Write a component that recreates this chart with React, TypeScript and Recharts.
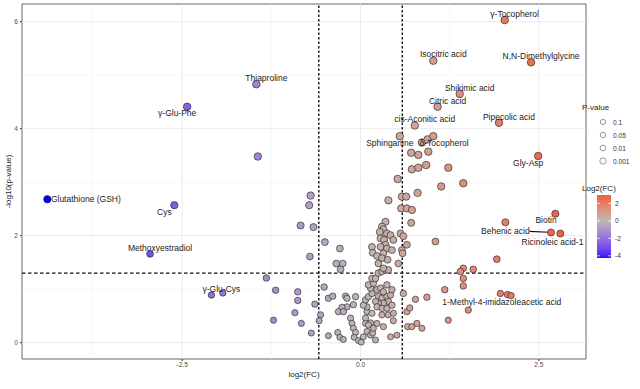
import { ScatterChart, Scatter, XAxis, YAxis, ReferenceLine, ReferenceArea } from "recharts";

// [log2(FC), -log10(p)]
const leftPoints = [
    [-4.39, 2.68], [-2.61, 2.57], [-2.95, 1.66], [-2.43, 4.41], [-1.46, 4.83], [-1.44, 3.48],
    [-0.70, 2.75], [-0.72, 2.57], [-0.84, 2.19], [-0.66, 2.16], [-0.71, 1.61],
    [-2.09, 0.89], [-1.93, 0.93], [-1.32, 1.21], [-1.19, 0.98], [-0.88, 0.95], [-0.88, 0.79],
    [-0.92, 0.56], [-1.22, 0.42], [-0.83, 0.36], [-0.69, 0.18], [-0.64, 0.72],
];

const centerPoints = [
    [-0.50, 1.88], [-0.51, 1.04], [-0.45, 0.83], [-0.56, 0.52], [-0.58, 0.41], [-0.45, 0.13],
    [-0.29, 1.76], [-0.34, 1.48], [-0.25, 1.48], [-0.28, 1.37], [-0.39, 0.87], [-0.21, 0.87],
    [-0.19, 0.83], [-0.07, 0.86], [-0.10, 0.71], [-0.19, 0.67], [-0.26, 0.66], [-0.31, 0.58],
    [-0.24, 0.58], [-0.32, 0.19], [-0.29, 0.10], [-0.24, 0.06], [-0.14, 0.46], [-0.12, 0.36],
    [-0.10, 0.27], [-0.07, 0.19], [-0.09, 0.10], [-0.03, 0.04], [0.01, 0.01], [0.04, 0.11],
    [0.09, 0.21], [0.14, 0.14], [0.21, 0.05], [0.17, 0.18], [0.42, 0.11], [0.51, 0.14],
    [0.46, 0.41], [0.23, 0.36], [0.14, 0.37], [0.07, 0.46], [0.09, 0.58], [0.16, 0.55],
    [0.30, 0.52], [0.39, 0.52], [0.07, 0.36], [0.11, 0.33], [0.18, 0.27], [0.32, 0.30],
    [0.09, 0.67], [0.04, 0.70], [0.07, 0.80], [0.11, 0.86], [0.16, 0.92], [0.14, 1.02],
    [0.11, 1.08], [0.18, 1.11], [0.16, 1.20], [0.21, 1.20], [0.25, 1.30], [0.30, 1.33],
    [0.35, 1.36], [0.39, 1.36], [0.23, 0.99], [0.28, 1.02], [0.32, 0.95], [0.25, 0.86],
    [0.30, 0.83], [0.37, 0.86], [0.39, 0.77], [0.32, 0.74], [0.25, 0.74], [0.21, 0.77],
    [0.23, 0.67], [0.30, 0.64], [0.37, 0.64], [0.44, 0.70], [0.42, 0.89], [0.37, 1.08],
    [0.44, 0.99], [0.46, 0.55],
    [0.52, 3.06], [0.58, 2.73], [0.39, 2.66], [0.57, 2.51], [0.35, 2.26], [0.30, 2.17],
    [0.32, 2.12], [0.27, 2.07], [0.37, 2.04], [0.28, 1.95], [0.33, 1.92], [0.42, 2.01],
    [0.46, 1.92], [0.56, 2.04], [0.35, 1.83], [0.28, 1.79], [0.37, 1.76], [0.44, 1.73],
    [0.58, 1.73], [0.16, 1.79], [0.17, 1.68], [0.32, 1.67], [0.23, 1.62], [0.30, 1.58],
    [0.38, 1.55], [0.53, 1.48], [0.25, 1.48], [0.32, 1.39], [0.55, 3.86], [0.60, 0.92],
];

const rightPoints = [
    [2.02, 6.03], [2.39, 5.24], [1.02, 5.27], [1.39, 4.65], [1.08, 4.41], [0.76, 4.06],
    [1.94, 4.11], [0.86, 3.74], [0.94, 3.80], [1.02, 3.86], [0.71, 3.55], [0.81, 3.51],
    [0.95, 3.57], [0.72, 3.24], [0.81, 3.27], [0.92, 3.32], [1.23, 3.27], [1.13, 2.92],
    [1.44, 2.98], [2.49, 3.49], [2.73, 2.41], [2.67, 2.06], [2.80, 2.04], [2.03, 2.25],
    [1.91, 1.56], [1.44, 1.39], [1.40, 1.33], [1.58, 1.37], [1.05, 1.89], [0.64, 2.73],
    [0.80, 2.80], [0.65, 2.51], [0.72, 2.48], [0.71, 2.24], [0.60, 1.99], [0.65, 1.83],
    [0.59, 1.67],
    [0.65, 0.58], [0.77, 0.81], [0.93, 0.85], [0.69, 0.65], [0.66, 0.30], [0.72, 0.30],
    [0.79, 0.36], [0.86, 0.27], [1.44, 1.20], [1.44, 1.06], [1.18, 0.99], [1.96, 0.92],
    [2.06, 0.90], [2.11, 0.88], [1.51, 0.61], [1.23, 0.42],
];

const labelNames = [
    "γ-Tocopherol", "N,N-Dimethylglycine", "Isocitric acid", "Shikimic acid", "Citric acid",
    "cis-Aconitic acid", "Pipecolic acid", "Sphinganine", "δ-Tocopherol", "Gly-Asp", "Biotin",
    "Behenic acid", "Ricinoleic acid-1", "1-Methyl-4-imidazoleacetic acid", "Glutathione (GSH)",
    "Cys", "Methoxyestradiol", "γ-Glu-Cys", "γ-Glu-Phe", "Thiaproline",
];
const labelFc = [2.16, 2.53, 1.16, 1.53, 1.22, 0.90, 2.08, 0.41, 1.17, 2.35, 2.60, 2.03, 2.69, 1.98, -3.85, -2.75, -2.81, -1.95, -2.57, -1.32];
const labelLogP = [6.14, 5.35, 5.40, 4.76, 4.52, 4.18, 4.22, 3.73, 3.73, 3.36, 2.29, 2.09, 1.88, 0.755, 2.69, 2.44, 1.77, 1.00, 4.29, 4.94];

const xTicks = [-2.5, 0, 2.5];
const yTicks = [0, 2, 4, 6];
const xGrid = [-3.75, -2.5, -1.25, 0, 1.25, 2.5];
const yGrid = [0, 1, 2, 3, 4, 5, 6];
const pLegendLabels = ["0.1", "0.05", "0.01", "0.001"];
const pLegendLogP = [1, 1.3, 2, 3];
const fcLegendTicks = [2, 0, -2, -4];

const FONT = "'Liberation Sans', Arial, sans-serif";

// colour helpers (Lab interpolation, like ggplot's gradient2)
const lin = (c: number) => { c /= 255; return c <= 0.04045 ? c / 12.92 : Math.pow((c + 0.055) / 1.055, 2.4); };
const toLab = ([r, g, b]: number[]) => {
    const R = lin(r), G = lin(g), B = lin(b);
    const X = (R * 0.4124 + G * 0.3576 + B * 0.1805) / 0.95047;
    const Y = R * 0.2126 + G * 0.7152 + B * 0.0722;
    const Z = (R * 0.0193 + G * 0.1192 + B * 0.9505) / 1.08883;
    const f = (t: number) => (t > 0.008856 ? Math.cbrt(t) : 7.787 * t + 16 / 116);
    const fx = f(X), fy = f(Y), fz = f(Z);
    return [116 * fy - 16, 500 * (fx - fy), 200 * (fy - fz)];
};
const fromLab = ([L, a, b]: number[]) => {
    const fy = (L + 16) / 116, fx = a / 500 + fy, fz = fy - b / 200;
    const inv = (t: number) => (t * t * t > 0.008856 ? t * t * t : (t - 16 / 116) / 7.787);
    const X = inv(fx) * 0.95047, Y = inv(fy), Z = inv(fz) * 1.08883;
    const rgb = [
        3.2406 * X - 1.5372 * Y - 0.4986 * Z,
        -0.9689 * X + 1.8758 * Y + 0.0415 * Z,
        0.0557 * X - 0.204 * Y + 1.057 * Z,
    ].map((c) => {
        const v = c <= 0.0031308 ? 12.92 * c : 1.055 * Math.pow(c, 1 / 2.4) - 0.055;
        return Math.round(Math.max(0, Math.min(1, v)) * 255);
    });
    return `rgb(${rgb[0]},${rgb[1]},${rgb[2]})`;
};
const LOW = toLab([0, 0, 255]);
const MID = toLab([188, 184, 184]);
const HIGH = toLab([239, 95, 69]);
const mix = (a: number[], b: number[], t: number) => a.map((v, i) => v + (b[i] - v) * t);
const fillFor = (fc: number) =>
    fc >= 0 ? fromLab(mix(MID, HIGH, Math.min(fc / 2.8, 1))) : fromLab(mix(MID, LOW, Math.min(-fc / 4.39, 1)));
const radiusFor = (lp: number) => 3.0 + 0.25 * Math.min(lp, 3);

const Dot = (props: any) => {
    const { cx, cy, payload } = props;
    if (cx == null || cy == null) return null;
    return <circle cx={cx} cy={cy} r={radiusFor(payload.lp)} fill={fillFor(payload.fc)} stroke="#262626" strokeWidth={0.65} />;
};

const LabelText = (props: any) => {
    const { cx, cy, payload } = props;
    if (cx == null || cy == null) return null;
    return (
        <text x={cx} y={cy} textAnchor="middle" dominantBaseline="central" fontSize={8.5} fill="#1a1a1a" fontFamily={FONT}>
            {payload.name}
        </text>
    );
};

export default function App() {
    const points = [...leftPoints, ...centerPoints, ...rightPoints].map(([fc, lp]) => ({ fc, lp }));
    const labels = labelNames.map((name, i) => ({ name, fc: labelFc[i], lp: labelLogP[i] }));
    const barStops = Array.from({ length: 25 }, (_, i) => 2.95 - (i * 7.2) / 24);

    return (
        <div style={{ position: "absolute", left: 0, top: 0, width: 640, height: 389, background: "#fff", fontFamily: FONT }}>
            <ScatterChart width={640} height={389} margin={{ top: 4, right: 54, bottom: 0, left: 0 }}>
                {xGrid.map((v) => (
                    <ReferenceLine key={`gx${v}`} x={v} stroke={v % 2.5 === 0 ? "#EBEBEB" : "#F3F3F3"} strokeWidth={v % 2.5 === 0 ? 1 : 0.6} />
                ))}
                {yGrid.map((v) => (
                    <ReferenceLine key={`gy${v}`} y={v} stroke={v % 2 === 0 ? "#EBEBEB" : "#F3F3F3"} strokeWidth={v % 2 === 0 ? 1 : 0.6} />
                ))}
                <XAxis
                    type="number"
                    dataKey="fc"
                    domain={[-4.745, 3.16]}
                    allowDataOverflow
                    ticks={xTicks}
                    tickFormatter={(v: number) => v.toFixed(1)}
                    height={30}
                    axisLine={false}
                    tickLine={{ stroke: "#333" }}
                    tickSize={2}
                    tickMargin={1}
                    tick={{ fontSize: 6.6, fill: "#4D4D4D", fontFamily: FONT }}
                    label={{ value: "log2(FC)", position: "insideBottom", offset: 12, fontSize: 8, fill: "#222", fontFamily: FONT }}
                />
                <YAxis
                    type="number"
                    dataKey="lp"
                    domain={[-0.305, 6.33]}
                    allowDataOverflow
                    ticks={yTicks}
                    width={22}
                    axisLine={false}
                    tickLine={{ stroke: "#333" }}
                    tickSize={2}
                    tickMargin={2}
                    tick={{ fontSize: 6.6, fill: "#4D4D4D", fontFamily: FONT }}
                    label={{ value: "-log10(p-value)", angle: -90, position: "insideLeft", offset: 8, fontSize: 8, fill: "#222", fontFamily: FONT, style: { textAnchor: "middle" } }}
                />
                <Scatter data={points} shape={<Dot />} isAnimationActive={false} />
                <ReferenceLine x={-0.585} stroke="#111" strokeWidth={1.4} strokeDasharray="2.5 2" />
                <ReferenceLine x={0.585} stroke="#111" strokeWidth={1.4} strokeDasharray="2.5 2" />
                <ReferenceLine y={1.301} stroke="#111" strokeWidth={1.3} strokeDasharray="3.5 2.5" />
                <ReferenceLine segment={[{ x: 2.37, y: 2.08 }, { x: 2.635, y: 2.065 }]} stroke="#111" strokeWidth={1.1} />
                <Scatter data={labels} shape={<LabelText />} isAnimationActive={false} />
                <ReferenceArea x1={-4.745} x2={3.16} y1={-0.305} y2={6.33} fill="none" stroke="#666" strokeWidth={1} />
            </ScatterChart>
            <svg width={640} height={389} style={{ position: "absolute", left: 0, top: 0, pointerEvents: "none" }}>
                <defs>
                    <linearGradient id="fcbar" x1="0" y1="0" x2="0" y2="1">
                        {barStops.map((v, i) => (
                            <stop key={i} offset={`${(i / 24) * 100}%`} stopColor={fillFor(v)} />
                        ))}
                    </linearGradient>
                </defs>
                <text x={582} y={107} fontSize={8} fill="#222" dominantBaseline="central" fontFamily={FONT}>P-value</text>
                {pLegendLabels.map((lab, i) => (
                    <g key={lab}>
                        <circle cx={603} cy={122 + i * 13} r={radiusFor(pLegendLogP[i]) - 0.6} fill="#fff" stroke="#555" strokeWidth={0.6} />
                        <text x={613} y={122 + i * 13} fontSize={6.6} fill="#333" dominantBaseline="central" fontFamily={FONT}>{lab}</text>
                    </g>
                ))}
                <text x={582} y={188} fontSize={8} fill="#222" dominantBaseline="central" fontFamily={FONT}>Log2(FC)</text>
                <rect x={597} y={195} width={14} height={63} fill="url(#fcbar)" />
                {fcLegendTicks.map((v) => {
                    const y = 220.8 - v * 8.75;
                    return (
                        <g key={v}>
                            <line x1={597} x2={599.8} y1={y} y2={y} stroke="#fff" strokeWidth={0.8} />
                            <line x1={608.2} x2={611} y1={y} y2={y} stroke="#fff" strokeWidth={0.8} />
                            <text x={615} y={y} fontSize={6.6} fill="#333" dominantBaseline="central" fontFamily={FONT}>{v}</text>
                        </g>
                    );
                })}
            </svg>
        </div>
    );
}
